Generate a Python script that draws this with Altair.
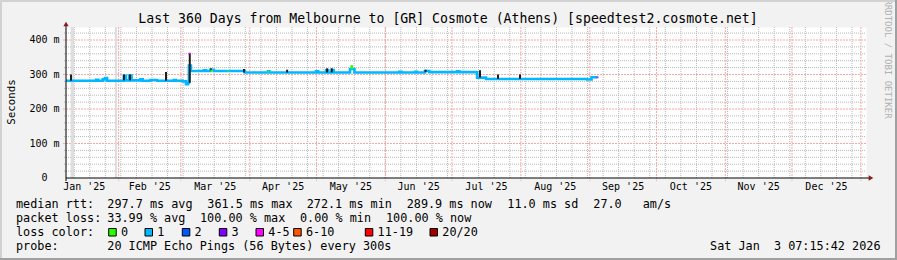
import altair as alt
import pandas as pd
from datetime import datetime, timedelta

# ---------------- data ----------------
START = datetime(2025, 1, 8, 7, 15)
SPAN = 360.0  # days shown

# median rtt (ms), step series: value holds from this day on
rtt_days = [0, 13.5, 14.5, 16.5, 17.5, 18.5, 26.0, 27.0, 28.5, 29.5, 33.5, 34.5, 38.0, 41.0,
            48.5, 49.5, 52.5, 54.0, 54.9, 55.3, 56.2, 62.0, 63.0, 65.0, 66.5, 80.5, 90.9, 91.5,
            112.5, 113.5, 117.0, 118.0, 119.5, 120.5, 127.8, 129.8, 150.0, 151.0, 157.0, 158.0,
            161.5, 163.5, 176.0, 177.0, 185.0, 189.0, 234.5, 236.5, 239.0]
rtt_ms = [282, 285, 282, 286, 290, 282, 296, 283, 297, 283, 286, 282, 284, 282,
          284, 282, 280, 272, 276, 326, 310, 312, 310, 314, 310, 306, 309, 306,
          309, 306, 312, 306, 313, 306, 316, 306, 308, 306, 308, 306,
          310, 307, 309, 307, 291, 287, 285.5, 292, 290]

# dark "smoke" spikes
spike_days = [2.25, 26.1, 28.8, 45.0, 55.7, 65.2, 80.1, 99.5, 117.5, 119.6, 161.8, 186.3, 194.4, 204.3]
spike_lo = [282, 283, 283, 282, 276, 310, 306, 306, 306, 306, 307, 291, 287, 287]
spike_hi = [300, 300, 300, 307, 362, 318, 316, 314, 318, 318, 314, 312, 300, 300]

# median segments with another loss colour
acc_days = [55.7, 65.5, 73.0, 90.9, 128.6, 239.0]
acc_lo = [359, 309, 309, 306, 316, 289]
acc_hi = [363, 314, 312, 310, 327, 292]
acc_loss = ['4-5', '0', '0', '0', '0', '4-5']

# unknown-data bands (days)
unknown_from = [2.1, 22.0]
unknown_to = [3.6, 23.0]

month_labels = ["Jan '25", "Feb '25", "Mar '25", "Apr '25", "May '25", "Jun '25",
                "Jul '25", "Aug '25", "Sep '25", "Oct '25", "Nov '25", "Dec '25"]
y_ticks = [0, 100, 200, 300, 400]
loss_labels = ['0', '1', '2', '3', '4-5', '6-10', '11-19', '20/20']
loss_colors = ['#26ff00', '#00b8ff', '#0059ff', '#7e00ff', '#ff00ff', '#ff5500', '#ff0000', '#a00000']

title_text = "Last 360 Days from Melbourne to [GR] Cosmote (Athens) [speedtest2.cosmote.net]"
row1 = [("median rtt:", 16), ("297.7 ms avg", 107.3), ("361.5 ms max", 207.3),
        ("272.1 ms min", 306.7), ("289.9 ms now", 406.7), ("11.0 ms sd", 507.3),
        ("27.0", 593.3), ("am/s", 642.7)]
row2 = [("packet loss:", 16), ("33.99 % avg", 107.3), ("100.00 % max", 200),
        ("0.00 % min", 300), ("100.00 % now", 386)]
probe_text = "20 ICMP Echo Pings (56 Bytes) every 300s"
stamp_text = "Sat Jan  3 07:15:42 2026"

# ---------------- layout ----------------
W, H = 800, 151
PL, PT = 66, 27
YMAX = 437.7
FONT = "DejaVu Sans Mono"
legend_x = [108.7, 145, 182.3, 219.3, 256, 293.7, 365.3, 430]


def day_of(d):
    return (d - START).total_seconds() / 86400.0


months = [datetime(2025, m, 1) for m in range(1, 13)] + [datetime(2026, 1, 1)]
month_lines = [day_of(m) for m in months if 0 < day_of(m) < SPAN]
label_days = [(day_of(months[i]) + day_of(months[i + 1])) / 2 for i in range(12)]
week_lines = []
d = datetime(2025, 1, 12)
while day_of(d) < SPAN:
    week_lines.append(day_of(d))
    d += timedelta(days=7)

xs = alt.Scale(domain=[0, SPAN], nice=False, zero=False)
ys = alt.Scale(domain=[0, YMAX], nice=False, zero=True)


def nb(s):
    return s.replace(" ", "\u00a0")


def txt(s, px, py, size=11.8, align="left", angle=0, color="black"):
    return alt.Chart(pd.DataFrame({"t": [nb(s)]})).mark_text(
        align=align, baseline="middle", font=FONT, fontSize=size, angle=angle, color=color
    ).encode(text="t:N", x=alt.value(px - PL), y=alt.value(py - PT))


def hline(py, x1, x2, color, width):
    return alt.Chart(pd.DataFrame({"a": [0]})).mark_rule(color=color, strokeWidth=width).encode(
        x=alt.value(x1 - PL), x2=alt.value(x2 - PL), y=alt.value(py - PT))


def vline(px, y1, y2, color, width):
    return alt.Chart(pd.DataFrame({"a": [0]})).mark_rule(color=color, strokeWidth=width).encode(
        y=alt.value(y1 - PT), y2=alt.value(y2 - PT), x=alt.value(px - PL))


layers = []

# grid
minor_y = [v for v in range(20, 440, 20) if v % 100 != 0 and v < YMAX]
major_y = [v for v in y_ticks if v > 0]
GREY = "#b8b8b8"
RED = "#f4a8a8"
layers.append(alt.Chart(pd.DataFrame({"v": minor_y})).mark_rule(
    stroke=GREY, strokeWidth=1, strokeDash=[1, 1]).encode(
    y=alt.Y("v:Q", scale=ys, axis=None), x=alt.value(-2), x2=alt.value(W)))
layers.append(alt.Chart(pd.DataFrame({"d": week_lines})).mark_rule(
    stroke=GREY, strokeWidth=1, strokeDash=[1, 1]).encode(
    x=alt.X("d:Q", scale=xs, axis=None), y=alt.value(0), y2=alt.value(H)))
layers.append(alt.Chart(pd.DataFrame({"v": major_y})).mark_rule(
    stroke=RED, strokeWidth=1, strokeDash=[2, 1]).encode(
    y=alt.Y("v:Q", scale=ys, axis=None), x=alt.value(-3), x2=alt.value(W)))
layers.append(alt.Chart(pd.DataFrame({"d": month_lines})).mark_rule(
    stroke=RED, strokeWidth=1, strokeDash=[2, 1]).encode(
    x=alt.X("d:Q", scale=xs, axis=None), y=alt.value(0), y2=alt.value(H + 3)))

# unknown bands
layers.append(alt.Chart(pd.DataFrame({"a": unknown_from, "b": unknown_to})).mark_rect(
    color="#dedede").encode(
    x=alt.X("a:Q", scale=xs, axis=None), x2="b:Q", y=alt.value(0), y2=alt.value(H)))

# median line
layers.append(alt.Chart(pd.DataFrame({"day": rtt_days, "rtt": rtt_ms})).mark_line(
    interpolate="step-after", color=loss_colors[1], strokeWidth=2.6).encode(
    x=alt.X("day:Q", scale=xs, axis=None), y=alt.Y("rtt:Q", scale=ys, axis=None)))

# smoke spikes
layers.append(alt.Chart(pd.DataFrame({"day": spike_days, "lo": spike_lo, "hi": spike_hi})).mark_rule(
    color="#1e1e1e", strokeWidth=2).encode(
    x=alt.X("day:Q", scale=xs, axis=None), y=alt.Y("lo:Q", scale=ys, axis=None), y2="hi:Q"))

# loss-coloured bits
layers.append(alt.Chart(pd.DataFrame({"day": acc_days, "lo": acc_lo, "hi": acc_hi, "loss": acc_loss})).mark_rule(
    strokeWidth=2.5).encode(
    x=alt.X("day:Q", scale=xs, axis=None), y=alt.Y("lo:Q", scale=ys, axis=None), y2="hi:Q",
    color=alt.Color("loss:N", scale=alt.Scale(domain=loss_labels, range=loss_colors), legend=None)))

# axes
layers.append(hline(178, 66, 870, "black", 1))
layers.append(vline(66, 181, 24, "black", 1))
layers.append(alt.Chart(pd.DataFrame({"a": [0]})).mark_point(
    shape="triangle-up", filled=True, color="#8b1a1a", size=28, opacity=1).encode(
    x=alt.value(66 - PL), y=alt.value(24 - PT)))
layers.append(alt.Chart(pd.DataFrame({"a": [0]})).mark_point(
    shape="triangle-right", filled=True, color="#8b1a1a", size=28, opacity=1).encode(
    x=alt.value(871 - PL), y=alt.value(178 - PT)))

# axis labels
layers.append(alt.Chart(pd.DataFrame({"day": label_days, "lab": month_labels})).mark_text(
    font=FONT, fontSize=10, baseline="middle", align="center", color="black").encode(
    x=alt.X("day:Q", scale=xs, axis=None), y=alt.value(187 - PT), text="lab:N"))
nz_ticks = [v for v in y_ticks if v]
layers.append(alt.Chart(pd.DataFrame({"v": nz_ticks, "lab": [nb(f"{v} m") for v in nz_ticks]})).mark_text(
    font=FONT, fontSize=10, baseline="middle", align="right", color="black").encode(
    y=alt.Y("v:Q", scale=ys, axis=None), x=alt.value(59.5 - PL), text="lab:N"))
layers.append(alt.Chart(pd.DataFrame({"v": [0], "lab": ["0"]})).mark_text(
    font=FONT, fontSize=10, baseline="middle", align="right", color="black").encode(
    y=alt.Y("v:Q", scale=ys, axis=None), x=alt.value(47.5 - PL), text="lab:N"))

# titles
layers.append(txt(title_text, 448, 18.5, size=13.2, align="center"))
layers.append(txt("Seconds", 11.5, 102, size=10.8, align="center", angle=270))
layers.append(txt("RRDTOOL / TOBI OETIKER", 888, 59, size=9, align="center", angle=90, color="#b0b0b0"))

# legend rows
for s, px in row1:
    layers.append(txt(s, px, 204))
for s, px in row2:
    layers.append(txt(s, px, 218.3))
layers.append(txt("loss color:", 16, 232.3))
for lab, col, px in zip(loss_labels, loss_colors, legend_x):
    layers.append(alt.Chart(pd.DataFrame({"a": [0]})).mark_rect(
        fill=col, stroke="black", strokeWidth=1).encode(
        x=alt.value(px - PL), x2=alt.value(px + 7.5 - PL),
        y=alt.value(228.5 - PT), y2=alt.value(236 - PT)))
    layers.append(txt(lab, px + 12.3, 232.3))
layers.append(txt("probe:", 16, 246.3))
layers.append(txt(probe_text, 107.3, 246.3))
layers.append(txt(stamp_text, 880.5, 246.3, align="right"))

# frame shading
layers.append(hline(1, 0, 897, "#d2d2d2", 2))
layers.append(vline(1, 0, 260, "#d2d2d2", 2))
layers.append(hline(259, 0, 897, "#a0a0a0", 2))
layers.append(vline(896, 0, 260, "#a0a0a0", 2))

chart = alt.layer(*layers).properties(
    width=W, height=H,
    autosize=alt.AutoSizeParams(type="none"),
    padding={"left": PL, "top": PT, "right": 897 - PL - W, "bottom": 260 - PT - H},
    background="#f2f2f2",
).configure_view(fill="white", stroke="transparent")

chart.save("out.html", embed_options={"renderer": "svg", "actions": False})
